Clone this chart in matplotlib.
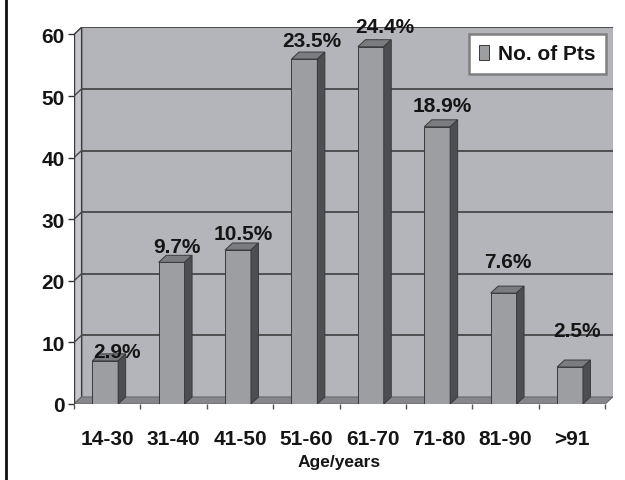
import matplotlib.pyplot as plt
from matplotlib.patches import Polygon
from matplotlib.lines import Line2D

age_groups = ["14-30", "31-40", "41-50", "51-60", "61-70", "71-80", "81-90", ">91"]
patients = [7, 23, 25, 56, 58, 45, 18, 6]
share_text = ["2.9%", "9.7%", "10.5%", "23.5%", "24.4%", "18.9%", "7.6%", "2.5%"]

# nudges for the percentage labels (category units, count units)
lab_dx = [0.18, 0.075, 0.075, 0.105, 0.21, 0.07, 0.06, 0.105]
lab_dy = [0.6, 1.7, 1.8, 2.1, 2.4, 2.6, 4.2, 5.0]

DX, DY = 0.113, 1.14      # depth of the fake 3d box, in data units
BAR_W = 0.39
BAR_SHIFT = -0.03
YMAX = 60

WALL = "#b4b5ba"
SIDE_WALL = "#c6c7cb"
FLOOR = "#86878c"
FRONT = "#9d9ea2"
TOP = "#7b7c80"
SIDE = "#4d4e52"
EDGE = "#3a3a3c"
GRID = "#48484a"
INK = "#151515"

plt.rcParams['font.family'] = ['Liberation Sans', 'DejaVu Sans']
plt.rcParams['font.weight'] = 'bold'

fig = plt.figure(figsize=(6.25, 4.81), dpi=100)
fig.patch.set_facecolor("white")
ax = fig.add_axes([74 / 625, 76 / 481, 538.7 / 625, 376.6 / 481])
ax.set_xlim(-0.5, 7.5 + DX)
ax.set_ylim(0, YMAX + DY)
ax.set_facecolor("none")
for s in ax.spines.values():
    s.set_visible(False)

x0, x1 = -0.5, len(age_groups) - 0.5

# walls and floor
ax.add_patch(Polygon([(x0 + DX, DY), (x1 + DX, DY), (x1 + DX, YMAX + DY), (x0 + DX, YMAX + DY)],
                     closed=True, fc=WALL, ec="#8c8c90", lw=0.8, zorder=1))
ax.add_patch(Polygon([(x0, 0), (x0 + DX, DY), (x0 + DX, YMAX + DY), (x0, YMAX)],
                     closed=True, fc=SIDE_WALL, ec=EDGE, lw=0.8, zorder=1))
ax.add_patch(Polygon([(x0, 0), (x1, 0), (x1 + DX, DY), (x0 + DX, DY)],
                     closed=True, fc=FLOOR, ec="#6a6a6e", lw=0.8, zorder=2))

for v in range(10, YMAX + 1, 10):
    ax.plot([x0 + DX, x1 + DX], [v + DY, v + DY], color=GRID, lw=1.3, zorder=2)
    ax.plot([x0, x0 + DX], [v, v + DY], color=GRID, lw=1.0, zorder=2)

# bars: front face from ax.bar, top and side faces added on
xs = [i + BAR_SHIFT for i in range(len(patients))]
bars = ax.bar(xs, patients, BAR_W, color=FRONT, edgecolor=EDGE, lw=0.7, zorder=5,
              label="No. of Pts")
for rect in bars:
    l = rect.get_x()
    r = l + rect.get_width()
    h = rect.get_height()
    ax.add_patch(Polygon([(l, h), (r, h), (r + DX, h + DY), (l + DX, h + DY)],
                         closed=True, fc=TOP, ec=EDGE, lw=0.7, zorder=5))
    ax.add_patch(Polygon([(r, 0), (r + DX, DY), (r + DX, h + DY), (r, h)],
                         closed=True, fc=SIDE, ec=EDGE, lw=0.7, zorder=5))

for i, rect in enumerate(bars):
    xc = rect.get_x() + rect.get_width() / 2
    ax.text(xc + lab_dx[i], rect.get_height() + lab_dy[i], share_text[i],
            ha="center", va="baseline", fontsize=15, color=INK, zorder=8)

# axes
ax.plot([x0, x0], [0, YMAX], color=EDGE, lw=1.0, zorder=3)
ax.set_xticks(range(len(age_groups)))
ax.set_xticklabels(age_groups)
ax.set_xticks([i - 0.5 for i in range(len(age_groups) + 1)], minor=True)
ax.tick_params(axis="x", which="major", length=0, pad=18, labelsize=15, labelcolor=INK)
ax.tick_params(axis="x", which="minor", length=3.6, width=1, color="#555555")
ax.set_yticks(range(0, YMAX + 1, 10))
ax.tick_params(axis="y", length=4.5, width=1, color="#333333", pad=2, labelsize=15,
               labelcolor=INK)

fig.text(339 / 625, 1 - 463 / 481, "Age/years", ha="center", va="center",
         fontsize=12.5, color=INK)

leg = ax.legend(loc="upper right", bbox_to_anchor=(606 / 625, 1 - 35 / 481),
                bbox_transform=fig.transFigure, borderaxespad=0, fancybox=False,
                fontsize=15, handlelength=0.45, handleheight=0.75, handletextpad=0.45,
                borderpad=0.5, framealpha=1)
leg.get_frame().set_edgecolor("#7f7f7f")
leg.get_frame().set_linewidth(1.8)
for t in leg.get_texts():
    t.set_color(INK)

# black rule down the left edge
fig.add_artist(Line2D([5.5 / 625, 5.5 / 625], [0, 1], transform=fig.transFigure,
                      color="#111111", lw=2))

fig.savefig("out.png", dpi=100)
